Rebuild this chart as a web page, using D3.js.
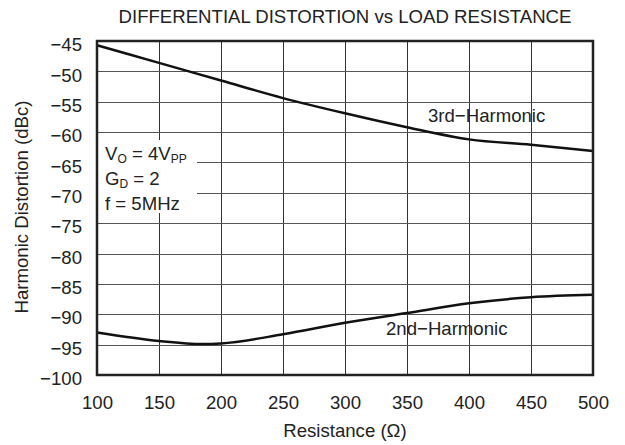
<!DOCTYPE html>
<html><head><meta charset="utf-8">
<script src="https://cdn.jsdelivr.net/npm/d3@7"></script>
<style>
body{margin:0;background:#fff;}
svg text{font-family:"Liberation Sans",Arial,sans-serif;fill:#222;}
</style></head>
<body><svg id="c" width="625" height="445"></svg>
<script>
const title = "DIFFERENTIAL DISTORTION vs LOAD RESISTANCE";
const xLabel = "Resistance (\u03A9)";
const yLabel = "Harmonic Distortion (dBc)";
const xTicks = [100,150,200,250,300,350,400,450,500];
const yTicks = [-45,-50,-55,-60,-65,-70,-75,-80,-85,-90,-95,-100];
const thirdR = [100,150,200,250,300,350,400,450,500];
const thirdV = [-45.7,-48.6,-51.5,-54.4,-56.9,-59.2,-61.2,-62.1,-63.1];
const secondR = [100,150,185,200,250,300,350,400,450,500];
const secondV = [-93.0,-94.4,-94.9,-94.8,-93.3,-91.4,-89.8,-88.2,-87.2,-86.8];

const FS = "18.6px";
const svg = d3.select("#c");
const L=97, R=593, T=41, B=375;
const x = d3.scaleLinear().domain([100,500]).range([L,R]);
const y = d3.scaleLinear().domain([-100,-45]).range([B,T]);
const fmt = v => (v<0?"\u2212":"")+Math.abs(v);

// grid
const g = svg.append("g");
g.selectAll(".vx").data(xTicks.slice(1,-1)).enter().append("line")
 .attr("x1",d=>Math.round(x(d))+0.5).attr("x2",d=>Math.round(x(d))+0.5)
 .attr("y1",T).attr("y2",B).attr("stroke","#333").attr("stroke-width",1);
g.selectAll(".hy").data(yTicks.slice(1,-1)).enter().append("line")
 .attr("y1",d=>Math.round(y(d))+0.5).attr("y2",d=>Math.round(y(d))+0.5)
 .attr("x1",L).attr("x2",R).attr("stroke","#555").attr("stroke-width",1);

// annotation box background
svg.append("rect").attr("x",L+1).attr("y",140).attr("width",99).attr("height",73).attr("fill","#fff");

// curves
const line = d3.line().x(d=>x(d[0])).y(d=>y(d[1])).curve(d3.curveMonotoneX);
svg.append("path").datum(d3.zip(thirdR,thirdV)).attr("d",line)
 .attr("fill","none").attr("stroke","#111").attr("stroke-width",2.5);
svg.append("path").datum(d3.zip(secondR,secondV)).attr("d",line)
 .attr("fill","none").attr("stroke","#111").attr("stroke-width",2.5);

// frame
svg.append("rect").attr("x",L).attr("y",T).attr("width",R-L).attr("height",B-T)
 .attr("fill","none").attr("stroke","#222").attr("stroke-width",2.5);

// axes tick labels
const xAxis = d3.axisBottom(x).tickValues(xTicks).tickSize(0).tickPadding(0);
const xa = svg.append("g").attr("transform",`translate(0,${B})`).call(xAxis);
xa.select(".domain").remove();
xa.selectAll("text").attr("y",34).attr("dy",null).style("font-size",FS).style("fill","#222");
const yAxis = d3.axisLeft(y).tickValues(yTicks).tickFormat(fmt).tickSize(0).tickPadding(0);
const ya = svg.append("g").attr("transform",`translate(${L},0)`).call(yAxis);
ya.select(".domain").remove();
ya.selectAll("text").attr("x",-15).attr("dy","0.52em").style("font-size",FS).style("fill","#222");

svg.append("text").attr("x",345).attr("y",23).attr("text-anchor","middle").style("font-size",FS).text(title);
svg.append("text").attr("x",345).attr("y",437).attr("text-anchor","middle").style("font-size",FS).text(xLabel);
svg.append("text").attr("transform","translate(28,207) rotate(-90)").attr("text-anchor","middle").style("font-size",FS).text(yLabel);

// annotations
const ann = svg.append("g").style("font-size",FS);
const SUB = "12px";
const t1 = ann.append("text").attr("x",105).attr("y",160);
t1.append("tspan").text("V");
t1.append("tspan").attr("dy",3).style("font-size",SUB).text("O");
t1.append("tspan").attr("dy",-3).text(" = 4V");
t1.append("tspan").attr("dy",3).style("font-size",SUB).text("PP");
const t2 = ann.append("text").attr("x",105).attr("y",185);
t2.append("tspan").text("G");
t2.append("tspan").attr("dy",3).style("font-size",SUB).text("D");
t2.append("tspan").attr("dy",-3).text(" = 2");
ann.append("text").attr("x",105).attr("y",210).text("f = 5MHz");

svg.append("text").attr("x",428).attr("y",122).style("font-size",FS).text("3rd\u2212Harmonic");
svg.append("text").attr("x",386).attr("y",335).style("font-size",FS).text("2nd\u2212Harmonic");
</script></body></html>
